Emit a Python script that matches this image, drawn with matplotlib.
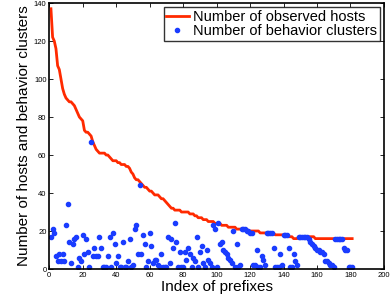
import numpy as np
import matplotlib
matplotlib.use("Agg")
import matplotlib.pyplot as plt

plt.rcParams['font.family'] = ['Liberation Sans', 'DejaVu Sans']

# index of prefixes (1-based, as in the original)
idx = np.arange(1, 182)

hosts = [137, 122, 120, 116, 107, 105, 100, 95, 92, 90,
         89, 88, 88, 87, 86, 84, 82, 80, 79, 78,
         73, 72, 72, 71, 70, 67, 65, 63, 62, 61,
         61, 61, 61, 60, 60, 59, 58, 57, 57, 57,
         56, 56, 55, 55, 55, 54, 54, 53, 51, 50,
         48, 47, 47, 46, 45, 44, 43, 43, 42, 41,
         41, 40, 39, 39, 39, 38, 37, 37, 36, 35,
         34, 33, 32, 32, 31, 31, 31, 31, 30, 30,
         30, 30, 30, 29, 29, 29, 28, 28, 27, 27,
         27, 26, 26, 26, 25, 25, 25, 25, 24, 24,
         24, 24, 23, 23, 23, 23, 22, 22, 22, 22,
         22, 21, 21, 21, 21, 21, 21, 21, 20, 20,
         20, 20, 20, 20, 20, 19, 19, 19, 19, 19,
         19, 19, 19, 19, 18, 18, 18, 18, 18, 18,
         18, 18, 17, 17, 17, 16, 16, 16, 17, 17,
         17, 17, 17, 17, 17, 17, 17, 17, 16, 16,
         16, 16, 16, 16, 16, 16, 16, 16, 16, 16,
         16, 16, 16, 16, 16, 16, 16, 16, 16, 16,
         16]

clusters = [17, 21, 19, 7, 4, 8, 4, 8, 4, 23,
            34, 14, 3, 13, 16, 17, 1, 6, 4, 18,
            8, 16, 9, 1, 67, 7, 11, 7, 7, 17,
            11, 1, 1, 1, 7, 17, 1, 19, 13, 3,
            7, 1, 1, 14, 1, 1, 4, 16, 1, 2,
            21, 23, 8, 44, 8, 18, 13, 1, 4, 19,
            12, 3, 5, 5, 2, 1, 8, 1, 1, 1,
            17, 3, 16, 11, 24, 14, 1, 9, 1, 1,
            9, 5, 11, 8, 1, 6, 4, 17, 1, 9,
            12, 3, 1, 10, 5, 3, 1, 23, 21, 1,
            24, 13, 14, 10, 9, 8, 6, 5, 3, 20,
            1, 13, 1, 2, 21, 21, 21, 20, 20, 19,
            19, 2, 2, 10, 1, 1, 7, 5, 2, 19,
            19, 19, 19, 11, 1, 1, 1, 8, 2, 18,
            18, 18, 11, 1, 1, 8, 4, 2, 17, 17,
            17, 17, 17, 17, 16, 14, 13, 12, 11, 10,
            10, 9, 9, 8, 4, 4, 3, 2, 2, 1,
            16, 16, 16, 16, 16, 11, 10, 10, 1, 1,
            1]

fig = plt.figure(figsize=(3.91, 3.05), dpi=100)
ax = fig.add_axes([0.126, 0.118, 0.856, 0.872])

ax.plot(idx, hosts, color='#ff2a00', lw=2, label='Number of observed hosts')
ax.plot(idx, clusters, ls='none', marker='o', ms=3, color='#1a3cff',
        label='Number of behavior clusters')

ax.set_xlim(0, 200)
ax.set_ylim(0, 140)
ax.set_xticks(range(0, 201, 20))
ax.set_yticks(range(0, 141, 20))
ax.tick_params(direction='in', top=True, right=True, labelsize=5.5,
               length=3, width=0.6, pad=2)
for s in ax.spines.values():
    s.set_linewidth(1.2)

ax.set_xlabel('Index of prefixes', fontsize=11, labelpad=1)
ax.set_ylabel('Number of hosts and behavior clusters', fontsize=11, labelpad=2)

leg = ax.legend(loc='upper right', fontsize=10.5, frameon=True, fancybox=False,
                borderaxespad=0.3, handlelength=1.6, handletextpad=0.3,
                borderpad=0.15, labelspacing=0.05)
leg.get_frame().set_edgecolor('black')
leg.get_frame().set_linewidth(1.0)

fig.savefig('out.png', dpi=100)
